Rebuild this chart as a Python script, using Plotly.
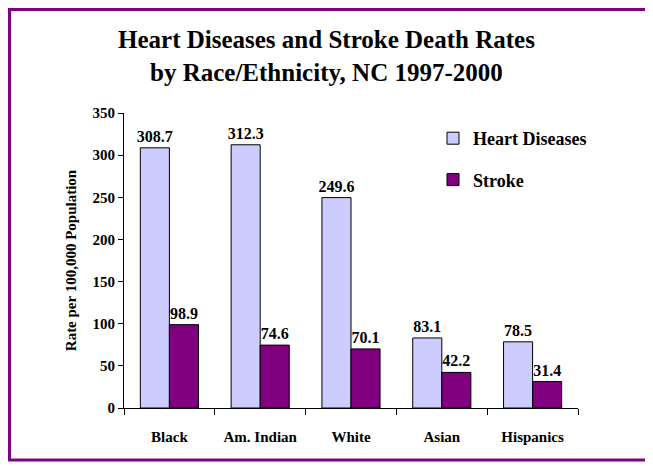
import plotly.graph_objects as go

FONT = "Liberation Serif, Times New Roman, serif"

groups = ["Black", "Am. Indian", "White", "Asian", "Hispanics"]
heart = [308.7, 312.3, 249.6, 83.1, 78.5]
stroke = [98.9, 74.6, 70.1, 42.2, 31.4]

# page body adds 8px, so the figure is drawn 8px smaller
W, H = 645, 458
L, R, T, B = 116, 75, 105, 58
pw, ph = W - L - R, H - T - B


def px_x(v):
    return (v - L) / pw


def px_y(v):
    return (H - B - v) / ph


fig = go.Figure()
fig.add_trace(go.Bar(
    x=groups, y=heart, name="<b>Heart Diseases</b>", legendgroup="h",
    marker=dict(color="#CCCCFF", line=dict(color="#000000", width=1)),
    text=[f"{v:.1f}" for v in heart], textposition="outside",
    textfont=dict(size=16, color="#000000"), cliponaxis=False,
))
fig.add_trace(go.Bar(
    x=groups, y=stroke, name="<b>Stroke</b>", legendgroup="s",
    marker=dict(color="#800080", line=dict(color="#000000", width=1)),
    text=[f"{v:.1f}" for v in stroke], textposition="outside",
    textfont=dict(size=16, color="#000000"), cliponaxis=False,
))
fig.update_traces(texttemplate="<b>%{text}</b>")

# purple frame around the whole chart
fig.add_shape(type="rect", xref="paper", yref="paper",
              x0=px_x(1.5), x1=px_x(642), y0=px_y(452), y1=px_y(1.5),
              line=dict(color="#800080", width=3), fillcolor="rgba(0,0,0,0)")

# title, two lines
for txt, yp in [("Heart Diseases and Stroke Death Rates", 32),
                ("by Race/Ethnicity, NC 1997-2000", 65)]:
    fig.add_annotation(text=f"<b>{txt}</b>", xref="paper", yref="paper",
                       x=px_x(318), y=px_y(yp), xanchor="center", yanchor="middle",
                       showarrow=False, font=dict(size=25, family=FONT, color="#000000"))

fig.update_layout(
    width=W, height=H,
    margin=dict(l=L, r=R, t=T, b=B),
    paper_bgcolor="white", plot_bgcolor="white",
    font=dict(family=FONT, color="#000000", size=15),
    barmode="group", bargap=0.36, bargroupgap=0,
    uniformtext=dict(minsize=16, mode="show"),
    showlegend=True,
    legend=dict(x=px_x(425), y=px_y(112), xanchor="left", yanchor="top",
                font=dict(size=18), tracegroupgap=15, traceorder="grouped",
                itemwidth=30, bgcolor="rgba(0,0,0,0)"),
    xaxis=dict(showline=True, linecolor="#000000", linewidth=1,
               ticks="outside", tickson="boundaries", ticklen=6, tickcolor="#000000",
               tickfont=dict(size=15), showgrid=False, ticklabelstandoff=15,
               tickprefix="<b>", ticksuffix="</b>"),
    yaxis=dict(range=[0, 350], dtick=50, showline=True, linecolor="#000000", linewidth=1,
               ticks="outside", ticklen=5, tickcolor="#000000", showgrid=False,
               tickfont=dict(size=15), zeroline=False,
               tickprefix="<b>", ticksuffix="</b>",
               title=dict(text="<b>Rate per 100,000 Population</b>", font=dict(size=15), standoff=12)),
)

fig.write_html("out.html")
